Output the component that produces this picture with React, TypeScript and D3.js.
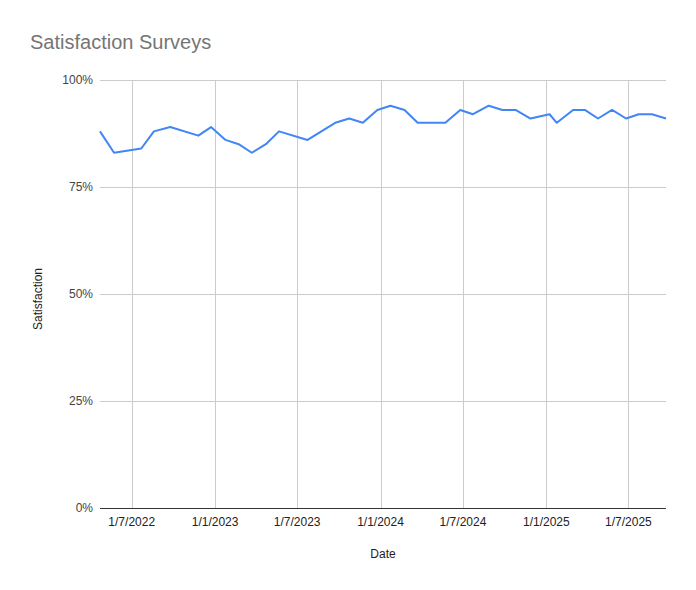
import { useEffect, useRef } from "react";
import * as d3 from "d3";

// survey dates (yyyy-mm-dd) and satisfaction values (%)
const dates = [
  "2022-04-22", "2022-05-23", "2022-07-22", "2022-08-19", "2022-09-24", "2022-11-25",
  "2022-12-23", "2023-01-24", "2023-02-22", "2023-03-23", "2023-04-23", "2023-05-22",
  "2023-07-24", "2023-09-23", "2023-10-24", "2023-11-23", "2023-12-25", "2024-01-23",
  "2024-02-23", "2024-03-23", "2024-05-23", "2024-06-25", "2024-07-23", "2024-08-27",
  "2024-09-26", "2024-10-25", "2024-11-27", "2025-01-08", "2025-01-24", "2025-03-01",
  "2025-03-27", "2025-04-25", "2025-05-26", "2025-06-26", "2025-07-24", "2025-08-22",
  "2025-09-22",
];
const satisfaction = [
  88, 83, 84, 88, 89, 87,
  89, 86, 85, 83, 85, 88,
  86, 90, 91, 90, 93, 94,
  93, 90, 90, 93, 92, 94,
  93, 93, 91, 92, 90, 93,
  93, 91, 93, 91, 92, 92,
  91,
];
const xTicks = ["2022-07-01", "2023-01-01", "2023-07-01", "2024-01-01", "2024-07-01", "2025-01-01", "2025-07-01"];
const yTicks = [0, 25, 50, 75, 100];

const W = 696;
const H = 590;
const FONT = "Liberation Sans, Arial, sans-serif";

export default function App() {
  const svgRef = useRef<SVGSVGElement>(null);

  useEffect(() => {
    document.body.style.margin = "0";
    if (!svgRef.current) return;
    const svg = d3.select(svgRef.current);
    svg.selectAll("*").remove();

    const parse = d3.timeParse("%Y-%m-%d");
    const data = dates.map((d, i) => ({ date: parse(d)!, value: satisfaction[i] }));

    const x = d3
      .scaleTime()
      .domain(d3.extent(data, (d) => d.date) as [Date, Date])
      .range([100, 666]);
    const y = d3.scaleLinear().domain([0, 100]).range([508, 80]);

    svg.append("rect").attr("width", W).attr("height", H).attr("fill", "#fff");

    // title
    svg.append("text")
      .attr("x", 30)
      .attr("y", 49)
      .attr("font-family", FONT)
      .attr("font-size", 20)
      .attr("fill", "#757575")
      .text("Satisfaction Surveys");

    // horizontal grid + y labels
    yTicks.forEach((t) => {
      if (t > 0) {
        svg.append("line")
          .attr("x1", 100).attr("x2", 666)
          .attr("y1", y(t)).attr("y2", y(t))
          .attr("stroke", "#cccccc").attr("stroke-width", 1)
          .attr("shape-rendering", "crispEdges");
      }
      svg.append("text")
        .attr("x", 93)
        .attr("y", y(t) + 4)
        .attr("text-anchor", "end")
        .attr("font-family", FONT)
        .attr("font-size", 12)
        .attr("fill", "#444444")
        .text(`${t}%`);
    });

    // vertical grid + x labels
    const fmt = (d: Date) => `${d.getDate()}/${d.getMonth() + 1}/${d.getFullYear()}`;
    xTicks.forEach((s) => {
      const d = parse(s)!;
      const px = Math.round(x(d)) + 0.5;
      svg.append("line")
        .attr("x1", px).attr("x2", px)
        .attr("y1", 80).attr("y2", 508)
        .attr("stroke", "#cccccc").attr("stroke-width", 1);
      svg.append("text")
        .attr("x", x(d))
        .attr("y", 526)
        .attr("text-anchor", "middle")
        .attr("font-family", FONT)
        .attr("font-size", 12)
        .attr("fill", "#222222")
        .text(fmt(d));
    });

    // baseline
    svg.append("line")
      .attr("x1", 100).attr("x2", 666)
      .attr("y1", 508.5).attr("y2", 508.5)
      .attr("stroke", "#333333").attr("stroke-width", 1);

    // series line
    const line = d3
      .line<{ date: Date; value: number }>()
      .x((d) => x(d.date))
      .y((d) => y(d.value));
    svg.append("path")
      .datum(data)
      .attr("d", line)
      .attr("fill", "none")
      .attr("stroke", "#4285f4")
      .attr("stroke-width", 2)
      .attr("stroke-linejoin", "round");

    // axis titles
    svg.append("text")
      .attr("x", 383)
      .attr("y", 558)
      .attr("text-anchor", "middle")
      .attr("font-family", FONT)
      .attr("font-size", 12)
      .attr("fill", "#222222")
      .text("Date");
    svg.append("text")
      .attr("transform", `translate(42,299) rotate(-90)`)
      .attr("text-anchor", "middle")
      .attr("font-family", FONT)
      .attr("font-size", 12)
      .attr("fill", "#222222")
      .text("Satisfaction");
  }, []);

  return <svg ref={svgRef} width={W} height={H} style={{ display: "block" }} />;
}
